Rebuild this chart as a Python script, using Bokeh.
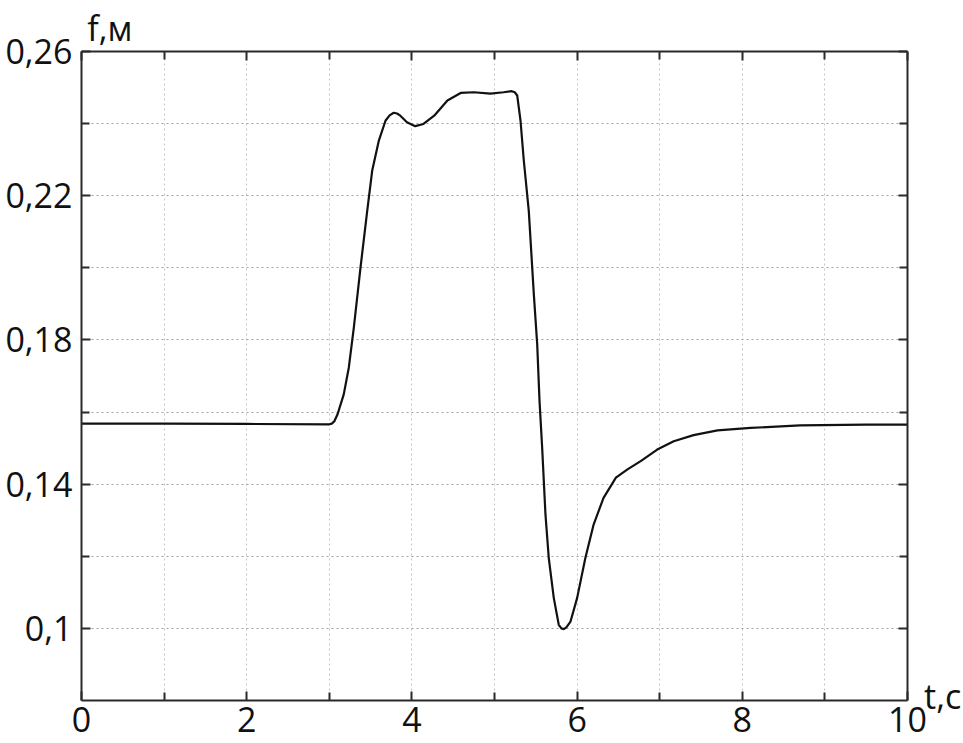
from bokeh.plotting import figure
from bokeh.models import FixedTicker, LinearAxis, Label, CustomJSTickFormatter, Range1d
from bokeh.embed import file_html
from bokeh.resources import INLINE

# ---- data ----
t = [0, 1, 2, 3.0, 3.03, 3.06, 3.10, 3.175, 3.236, 3.297, 3.378, 3.459, 3.519, 3.60,
     3.68, 3.73, 3.78, 3.82, 3.86, 3.94, 4.04, 4.14, 4.27, 4.43, 4.59, 4.75, 4.95,
     5.11, 5.21, 5.245, 5.275, 5.315, 5.355, 5.415, 5.476, 5.517, 5.545, 5.577, 5.617,
     5.657, 5.718, 5.778, 5.81, 5.839, 5.87, 5.92, 6.00, 6.10, 6.20, 6.32, 6.47, 6.61,
     6.77, 6.97, 7.17, 7.41, 7.70, 8.10, 8.70, 9.5, 10.0]
f = [0.1568, 0.1568, 0.1567, 0.1566, 0.1568, 0.1574, 0.1594, 0.1649, 0.1723, 0.1834,
     0.2001, 0.2158, 0.2269, 0.2353, 0.2408, 0.2423, 0.2430, 0.2428, 0.2422, 0.2404,
     0.2393, 0.2399, 0.2422, 0.2464, 0.2485, 0.2487, 0.2483, 0.2487, 0.2490, 0.2487,
     0.2478, 0.2408, 0.2297, 0.2158, 0.1927, 0.1788, 0.1631, 0.1501, 0.1316, 0.1195,
     0.1084, 0.1010, 0.1000, 0.0998, 0.1003, 0.1019, 0.1084, 0.1195, 0.1288, 0.1362,
     0.1418, 0.1441, 0.1464, 0.1496, 0.1519, 0.1536, 0.1549, 0.1556, 0.1563, 0.1565,
     0.1565]

x_major = [0, 2, 4, 6, 8, 10]
x_minor = [1, 3, 5, 7, 9]
y_major = [0.10, 0.14, 0.18, 0.22, 0.26]
y_minor = [0.12, 0.16, 0.20, 0.24]
x_grid = [1, 2, 3, 4, 5, 6, 7, 8, 9]
y_grid = [0.10, 0.12, 0.14, 0.16, 0.18, 0.20, 0.22, 0.24]
x_title = "t,c"
y_title = "f,м"

FONT = "Open Sans"
FS = "34px"
AX = "#2a2a2a"

p = figure(width=963, height=743, x_range=Range1d(0, 10), y_range=Range1d(0.08, 0.26),
           output_backend="svg", toolbar_location=None,
           min_border_left=81, min_border_right=56, min_border_top=51, min_border_bottom=43)
p.outline_line_color = None
p.background_fill_color = "white"
p.border_fill_color = "white"

def style_axis(ax, ticks, minor, labels=True):
    ax.ticker = FixedTicker(ticks=ticks, minor_ticks=minor)
    ax.axis_line_color = AX
    ax.axis_line_width = 2
    ax.major_tick_line_color = AX
    ax.major_tick_line_width = 2
    ax.minor_tick_line_color = AX
    ax.minor_tick_line_width = 2
    ax.major_tick_in = 9
    ax.major_tick_out = 0
    ax.minor_tick_in = 8
    ax.minor_tick_out = 0
    ax.major_label_text_font = FONT
    ax.major_label_text_font_size = FS
    ax.major_label_text_color = "#111111"
    if not labels:
        ax.formatter = CustomJSTickFormatter(code="return '';")
        ax.major_label_standoff = 0

xb = p.xaxis[0]
style_axis(xb, x_major, x_minor)
xb.major_label_standoff = 6
yl = p.yaxis[0]
style_axis(yl, y_major, y_minor)
yl.major_label_standoff = 9
yl.formatter = CustomJSTickFormatter(code="return (Math.round(tick*100)/100).toString().replace('.', ',');")

top = LinearAxis()
style_axis(top, x_major, x_minor, labels=False)
p.add_layout(top, "above")
right = LinearAxis()
style_axis(right, y_major, y_minor, labels=False)
p.add_layout(right, "right")

p.xgrid.ticker = FixedTicker(ticks=x_grid)
p.ygrid.ticker = FixedTicker(ticks=y_grid)
p.xgrid.grid_line_color = "#c4c4c4"
p.xgrid.grid_line_dash = "2 3"
p.xgrid.grid_line_width = 1
p.ygrid.grid_line_color = "#a0a0a0"
p.ygrid.grid_line_dash = "2 3"
p.ygrid.grid_line_width = 1

p.line(t, f, line_color="#111111", line_width=2.2)

p.add_layout(Label(x=0.07, y=0.2664, text=y_title, text_font=FONT, text_font_size=FS,
                   text_color="#111111", text_baseline="alphabetic"), "above")
p.add_layout(Label(x=10.2, y=0.0812, text=x_title, text_font=FONT, text_font_size=FS,
                   text_color="#111111", text_baseline="alphabetic"), "right")

open("out.html", "w").write(file_html(p, INLINE))
